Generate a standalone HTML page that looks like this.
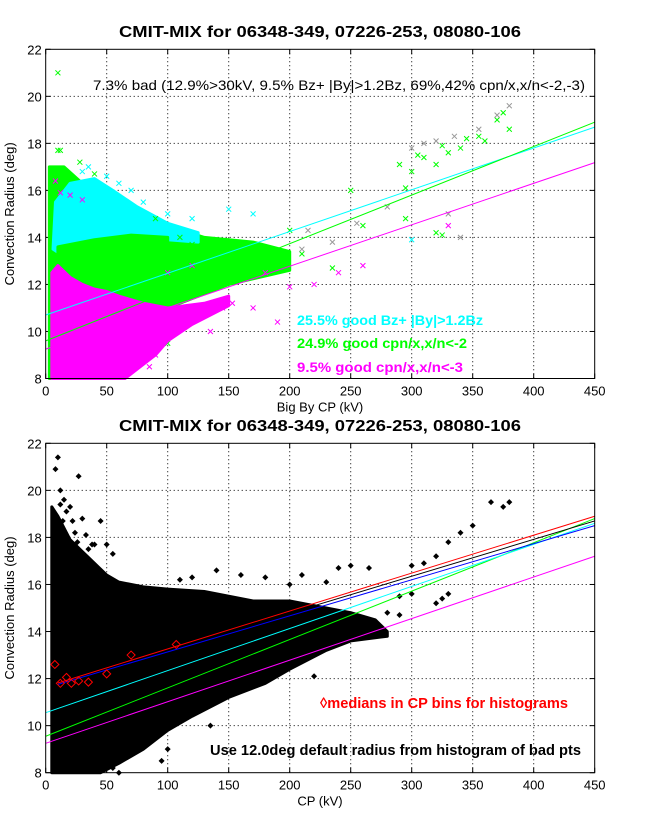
<!DOCTYPE html>
<html><head><meta charset="utf-8"><style>
html,body{margin:0;padding:0;background:#fff;}
svg{display:block;font-family:"Liberation Sans",sans-serif;}
</style></head><body>
<svg id="fig" width="647" height="822" viewBox="0 0 647 822">
<rect width="647" height="822" fill="#fff"/>
</svg>
<script>
// ---------- data ----------
const xTicks = [0,50,100,150,200,250,300,350,400,450];
const yTicks = [8,10,12,14,16,18,20,22];
const topCyanLine = [10.7, 18.69];
const topGreenLine = [9.6, 18.9];
const topMagentaLine = [9.25, 17.18];
const greenCloud = [[3,8],[3,17],[15,17],[30,16.3],[50,15.5],[80,14.8],[100,14.5],[130,14],[170,13.8],[200,13.4],[200,12.6],[150,12],[100,11],[70,9.5],[40,8]];
const cyanCloud = [[6,13.5],[8,15.5],[20,16.3],[40,16.5],[55,16],[75,15.3],[100,14.6],[125,14.2],[125,13.8],[100,13.9],[70,13.8],[45,13.5],[25,13.3],[12,13.3]];
const greenMix = [[10,13.6],[40,13.9],[70,14.1],[100,14.0],[100,13.6],[70,13.5],[40,13.2],[10,13.0]];
const magentaCloud = [[5,8],[5,12.5],[10,12.8],[20,12.3],[30,12],[40,11.8],[50,11.7],[60,11.5],[80,11.2],[100,11],[130,11.2],[150,11.5],[150,11.1],[120,10.3],[100,9.6],[90,9],[75,8.4],[65,8]];
const greenPts = [[10,21],[10,17.7],[12,17.7],[5,16.7],[8,16.7],[15,16.7],[28,17.2],[40,16.7],[290,17.1],[295,16.1],[300,16.8],[305,17.5],[310,17.4],[320,17.1],[325,17.9],[330,17.6],[340,17.8],[345,18.2],[355,18.3],[360,18.1],[370,19],[380,18.6],[375,19.3],[260,14.5],[235,12.7],[210,13.3],[320,14.2],[325,14.1],[295,14.8],[150,13.5],[175,12.6],[200,14.3],[250,16],[160,13],[140,13.3],[120,13.7],[110,14],[90,14.8],[130,12.5],[180,13.2],[110,13],[100,9.5]];
const cyanPts = [[30,16.8],[50,16.6],[60,16.3],[35,17],[80,15.5],[100,15],[120,14.8],[150,15.2],[170,15],[70,16],[300,13.9],[45,16.2]];
const magentaPts = [[330,14.5],[180,12.5],[200,11.9],[220,12],[240,12.5],[260,12.8],[170,11],[190,10.4],[135,10],[145,11],[153,11.2],[8,16.4],[12,15.9],[20,15.8],[30,15.6],[100,12.5],[120,12.8],[90,9],[85,8.5],[60,8.4]];
const grayPts = [[300,17.8],[310,18],[320,18.1],[335,18.3],[355,18.6],[370,19.2],[380,19.6],[235,13.8],[330,15],[340,14],[280,15.3],[215,14.3],[255,14.6],[210,13.5]];
const botMagentaLine = [9.25, 17.2];
const botGreenLine = [9.55, 18.8];
const botCyanLine = [10.55, 18.6];
const botBlueLine = [11.6, 18.5];
const botBlackLine = [11.65, 18.7];
const botRedLine = [11.65, 18.9];
const blackCloud = [[5,8],[5,19.3],[10,18.9],[20,17.9],[30,17.4],[40,16.9],[50,16.4],[60,16.1],[80,15.9],[100,15.8],[130,15.7],[150,15.5],[170,15.3],[200,15.3],[230,15],[250,14.8],[270,14.5],[280,14],[280,13.8],[250,13.6],[230,13.2],[200,12.4],[180,11.8],[150,11.2],[120,10.4],[100,9.8],[80,9],[60,8.4],[45,8]];
const blackPts = [[300,16.8],[310,16.9],[320,17.2],[330,17.8],[340,18.2],[350,18.5],[365,19.5],[375,19.3],[380,19.5],[330,15.6],[325,15.4],[320,15.2],[300,15.6],[280,14.8],[290,14.7],[250,16.8],[265,16.7],[10,21.4],[8,20.9],[27,20.6],[12,20],[45,18.7],[240,16.7],[135,10],[100,9],[95,8.5],[220,12.1],[140,11],[60,8],[55,8.2],[15,19.6],[20,19.3],[30,18.8],[40,17.7],[35,17.5],[50,17.7],[55,17.3],[110,16.2],[120,16.3],[140,16.6],[160,16.4],[180,16.3],[200,16],[210,16.4],[230,16.1],[260,14.3],[270,14.4],[290,15.5],[12,19.4],[17,19.1],[22,18.7],[14,18.7],[24,18.2],[33,18.1],[38,17.7],[26,17.8]];
const medianX = [7.5,12,17,21,27,35,50,70,107];
const medianY = [12.6,11.8,12.05,11.8,11.9,11.85,12.2,13.0,13.45];

// ---------- helpers ----------
const NS="http://www.w3.org/2000/svg";
const svg=document.getElementById('fig');
function mk(tag,attrs,parent){const e=document.createElementNS(NS,tag);for(const k in attrs)e.setAttribute(k,attrs[k]);(parent||svg).appendChild(e);return e;}
const X0=45.7,X1=594.7;
function sx(v){return X0+(v-0)/(450)*(X1-X0);}
function makeY(top,bot){return v=>bot-(v-8)/14*(bot-top);}
const yTop=makeY(49.3,378.5), yBot=makeY(443.3,772.7);

function axes(sy,top,bot,xTitle,title,titleY,pfx){
  const g=mk('g',{});
  
  
  xTicks.forEach(t=>{
    const x=sx(t);
    if(t>0&&t<450){const l=mk('line',{x1:x,x2:x,y1:top,y2:bot,stroke:'#000','stroke-width':1,'stroke-dasharray':'1,3'},g);
      }
    mk('line',{x1:x,x2:x,y1:bot,y2:bot-5,stroke:'#000'},g);
    mk('line',{x1:x,x2:x,y1:top,y2:top+5,stroke:'#000'},g);
    const tx=mk('text',{x:x,y:bot+17,'font-size':13,'text-anchor':'middle',fill:'#000'},g);
    tx.textContent=t;
    
  });
  yTicks.forEach(t=>{
    const y=sy(t);
    if(t>8&&t<22){const l=mk('line',{x1:X0,x2:X1,y1:y,y2:y,stroke:'#000','stroke-width':1,'stroke-dasharray':'1,3'},g);
      }
    mk('line',{x1:X0,x2:X0+5,y1:y,y2:y,stroke:'#000'},g);
    mk('line',{x1:X1,x2:X1-5,y1:y,y2:y,stroke:'#000'},g);
    const tx=mk('text',{x:X0-4,y:y+5,'font-size':13,'text-anchor':'end',fill:'#000'},g);
    tx.textContent=t;
    
  });
  const xt=mk('text',{x:320,y:bot+33,'font-size':13,'text-anchor':'middle'});
  xt.textContent=xTitle;
  const yt=mk('text',{x:0,y:0,'font-size':13,'text-anchor':'middle',transform:`translate(14,${(top+bot)/2}) rotate(-90)`});
  yt.textContent='Convection Radius (deg)';
  const tt=mk('text',{x:320,y:titleY,'font-size':16,'font-weight':'bold','text-anchor':'middle',textLength:402,lengthAdjust:'spacingAndGlyphs'});
  tt.textContent=title;
}
function frame(top,bot,pfx){
  const r=mk('rect',{x:X0,y:top,width:X1-X0,height:bot-top,fill:'none',stroke:'#000','stroke-width':1});
  
}
function poly(pts,sy,color,name){
  const p=mk('polygon',{points:pts.map(q=>sx(q[0])+','+sy(q[1])).join(' '),fill:color,stroke:color,'stroke-width':3,'stroke-linejoin':'round'});
  
}
function fitLine(ab,sy,color,name,x0){
  const xa=x0||0;
  const ya=ab[0]+(ab[1]-ab[0])*xa/450;
  const l=mk('line',{x1:sx(xa),y1:sy(ya),x2:sx(450),y2:sy(ab[1]),stroke:color,'stroke-width':1});
  
}
function crosses(pts,sy,color,name){
  const g=mk('g',{stroke:color,'stroke-width':1});
  
  pts.forEach(q=>{const x=sx(q[0]),y=sy(q[1]);
    const p=mk('path',{d:`M${x-2.5},${y-2.5}L${x+2.5},${y+2.5}M${x-2.5},${y+2.5}L${x+2.5},${y-2.5}`},g);
    });
}
function dots(pts,sy,name){
  const g=mk('g',{fill:'#000'});
  
  pts.forEach(q=>{const x=sx(q[0]),y=sy(q[1]);
    const p=mk('path',{d:`M${x},${y-3}L${x+3},${y}L${x},${y+3}L${x-3},${y}Z`},g);
    });
}

// ---------- top panel ----------
const T=49.3,B=378.5;
axes(yTop,T,B,'Big By CP (kV)','CMIT-MIX for 06348-349, 07226-253, 08080-106',37,'top');
poly(greenCloud,yTop,'#00ff00','top-green-cloud');
poly(cyanCloud,yTop,'#00ffff','top-cyan-cloud');
poly(greenMix,yTop,'#00ff00','top-green-mix');
crosses(greenPts,yTop,'#00ff00','top-green-points');
crosses(cyanPts,yTop,'#00ffff','top-cyan-points');
crosses(grayPts,yTop,'#999999','top-bad-points');
poly(magentaCloud,yTop,'#ff00ff','top-magenta-cloud');
crosses(magentaPts,yTop,'#ff00ff','top-magenta-points');
fitLine(topCyanLine,yTop,'#00ffff','top-cyan-fit');
fitLine(topGreenLine,yTop,'#00ff00','top-green-fit');
fitLine(topMagentaLine,yTop,'#ff00ff','top-magenta-fit');
frame(T,B,'top');
[['7.3% bad (12.9%>30kV, 9.5% Bz+ |By|>1.2Bz, 69%,42% cpn/x,x/n<-2,-3)',93,90,'#000','normal',492,'top-summary-note'],
 ['25.5% good Bz+ |By|>1.2Bz',297,325,'#00ffff','bold',186,'top-legend-cyan'],
 ['24.9% good cpn/x,x/n<-2',297,348,'#00ff00','bold',170,'top-legend-green'],
 ['9.5% good cpn/x,x/n<-3',297,372,'#ff00ff','bold',166,'top-legend-magenta']].forEach(a=>{
  const t=mk('text',{x:a[1],y:a[2],'font-size':14,fill:a[3],'font-weight':a[4],textLength:a[5],lengthAdjust:'spacingAndGlyphs'});
  t.textContent=a[0];
});

// ---------- bottom panel ----------
const T2=443.3,B2=772.7;
axes(yBot,T2,B2,'CP (kV)','CMIT-MIX for 06348-349, 07226-253, 08080-106',431,'bottom');
poly(blackCloud,yBot,'#000','bottom-point-cloud');
dots(blackPts,yBot,'bottom-points');
fitLine(botMagentaLine,yBot,'#ff00ff','bottom-magenta-fit');
fitLine(botGreenLine,yBot,'#00ff00','bottom-green-fit');
fitLine(botCyanLine,yBot,'#00ffff','bottom-cyan-fit');
fitLine(botBlackLine,yBot,'#000','bottom-black-fit',10);
fitLine(botBlueLine,yBot,'#0000ff','bottom-blue-fit',10);
fitLine(botRedLine,yBot,'#ff0000','bottom-red-fit',10);
const mg=mk('g',{fill:'none',stroke:'#ff0000','stroke-width':1});

medianX.forEach((v,i)=>{const x=sx(v),y=yBot(medianY[i]);
  const p=mk('path',{d:`M${x},${y-4}L${x+4},${y}L${x},${y+4}L${x-4},${y}Z`},mg);
  });
frame(T2,B2,'bottom');
const m1=mk('text',{x:320,y:708,'font-size':15,fill:'#ff0000','font-weight':'bold',textLength:248,lengthAdjust:'spacingAndGlyphs'});
m1.textContent='\u25CAmedians in CP bins for histograms';
const m2=mk('text',{x:210,y:755,'font-size':15,fill:'#000','font-weight':'bold',textLength:371,lengthAdjust:'spacingAndGlyphs'});
m2.textContent='Use 12.0deg default radius from histogram of bad pts';
</script>
</body></html>
